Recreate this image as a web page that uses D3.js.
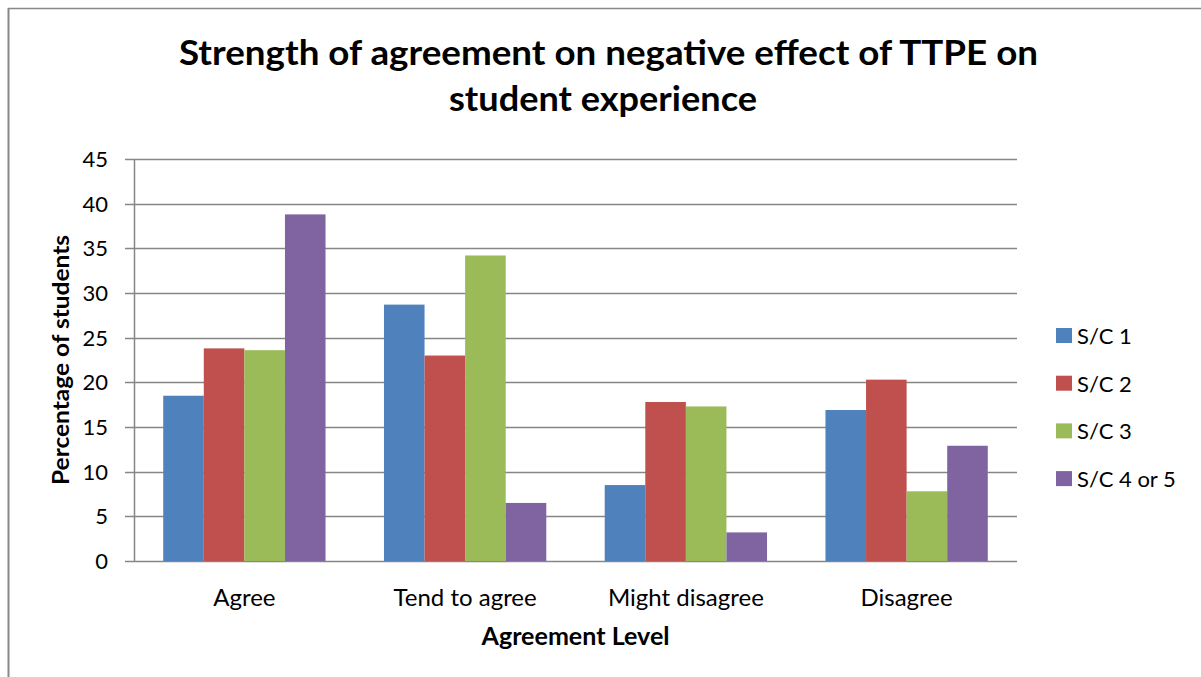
<!DOCTYPE html>
<html>
<head>
<meta charset="utf-8">
<script src="https://cdn.jsdelivr.net/npm/d3@7"></script>
<style>
  body { margin: 0; background: #fff; }
  text { font-family: Lato, "Open Sans", sans-serif; fill: #000; }
</style>
</head>
<body>
<div id="chart"></div>
<script>
var width = 1201, height = 677;

// data
var categories = ["Agree", "Tend to agree", "Might disagree", "Disagree"];
var seriesNames = ["S/C 1", "S/C 2", "S/C 3", "S/C 4 or 5"];
var sc1 = [18.5, 28.7, 8.5, 16.9];
var sc2 = [23.8, 23.0, 17.8, 20.3];
var sc3 = [23.6, 34.2, 17.3, 7.8];
var sc4 = [38.8, 6.5, 3.2, 12.9];
var yTicks = [0, 5, 10, 15, 20, 25, 30, 35, 40, 45];
var colors = ["#4F81BD", "#C0504D", "#9BBB59", "#8064A2"];

var series = [sc1, sc2, sc3, sc4];

var plot = { left: 134, right: 1017, top: 159, bottom: 561 };

var svg = d3.select("#chart").append("svg")
  .attr("width", width)
  .attr("height", height);

// chart frame (only top and left edges show)
svg.append("line")
  .attr("x1", 8).attr("x2", width).attr("y1", 8.5).attr("y2", 8.5)
  .attr("stroke", "#888").attr("stroke-width", 1.5);
svg.append("line")
  .attr("x1", 8.5).attr("x2", 8.5).attr("y1", 8).attr("y2", height)
  .attr("stroke", "#888").attr("stroke-width", 2);

var x = d3.scaleBand()
  .domain(categories)
  .range([plot.left, plot.right]);

var inner = d3.scaleBand()
  .domain(d3.range(series.length))
  .range([0, x.bandwidth()])
  .paddingOuter(0.72)
  .paddingInner(0);

var y = d3.scaleLinear()
  .domain([0, 45])
  .range([plot.bottom, plot.top]);

// gridlines
svg.append("g")
  .selectAll("line")
  .data(yTicks)
  .enter().append("line")
    .attr("x1", plot.left - 9)
    .attr("x2", plot.right)
    .attr("y1", function(d) { return Math.round(y(d)) + 0.5; })
    .attr("y2", function(d) { return Math.round(y(d)) + 0.5; })
    .attr("stroke", "#868686")
    .attr("stroke-width", 1.5);

// y axis line
svg.append("line")
  .attr("x1", plot.left + 0.5).attr("x2", plot.left + 0.5)
  .attr("y1", plot.top).attr("y2", plot.bottom)
  .attr("stroke", "#868686").attr("stroke-width", 1.5);

// bars
var groups = svg.append("g")
  .selectAll("g")
  .data(series)
  .enter().append("g")
    .attr("fill", function(d, i) { return colors[i]; });

groups.each(function(vals, si) {
  d3.select(this).selectAll("rect")
    .data(vals)
    .enter().append("rect")
      .attr("x", function(d, ci) { return x(categories[ci]) + inner(si); })
      .attr("width", inner.bandwidth())
      .attr("y", function(d) { return y(d); })
      .attr("height", function(d) { return y(0) - y(d); });
});

// y tick labels
svg.append("g")
  .selectAll("text")
  .data(yTicks)
  .enter().append("text")
    .attr("x", 108)
    .attr("y", function(d) { return y(d); })
    .attr("dy", "0.36em")
    .attr("text-anchor", "end")
    .style("font-size", "22px")
    .text(function(d) { return d; });

// x labels
svg.append("g")
  .selectAll("text")
  .data(categories)
  .enter().append("text")
    .attr("x", function(d) { return x(d) + x.bandwidth() / 2; })
    .attr("y", 606)
    .attr("text-anchor", "middle")
    .style("font-size", "24px")
    .text(function(d) { return d; });

// axis titles
svg.append("text")
  .attr("x", (plot.left + plot.right) / 2)
  .attr("y", 645)
  .attr("text-anchor", "middle")
  .style("font-size", "24px")
  .style("font-weight", "bold")
  .attr("textLength", 188)
  .attr("lengthAdjust", "spacingAndGlyphs")
  .text("Agreement Level");

svg.append("text")
  .attr("transform", "translate(69," + ((plot.top + plot.bottom) / 2) + ") rotate(-90)")
  .attr("text-anchor", "middle")
  .style("font-size", "23px")
  .style("font-weight", "bold")
  .attr("textLength", 250)
  .attr("lengthAdjust", "spacingAndGlyphs")
  .text("Percentage of students");

// title
var title = svg.append("g")
  .style("font-size", "34px")
  .style("font-weight", "bold");
title.append("text")
  .attr("x", 179).attr("y", 65)
  .attr("textLength", 859)
  .attr("lengthAdjust", "spacingAndGlyphs")
  .text("Strength of agreement on negative effect of TTPE on");
title.append("text")
  .attr("x", 449).attr("y", 111)
  .attr("textLength", 308)
  .attr("lengthAdjust", "spacingAndGlyphs")
  .text("student experience");

// legend
var legend = svg.append("g")
  .selectAll("g")
  .data(seriesNames)
  .enter().append("g")
    .attr("transform", function(d, i) { return "translate(1056," + (336 + i * 47.7) + ")"; });

legend.append("rect")
  .attr("y", -8)
  .attr("width", 16)
  .attr("height", 15)
  .attr("fill", function(d, i) { return colors[i]; });

legend.append("text")
  .attr("x", 21)
  .attr("dy", "0.36em")
  .style("font-size", "22px")
  .text(function(d) { return d; });
</script>
</body>
</html>
